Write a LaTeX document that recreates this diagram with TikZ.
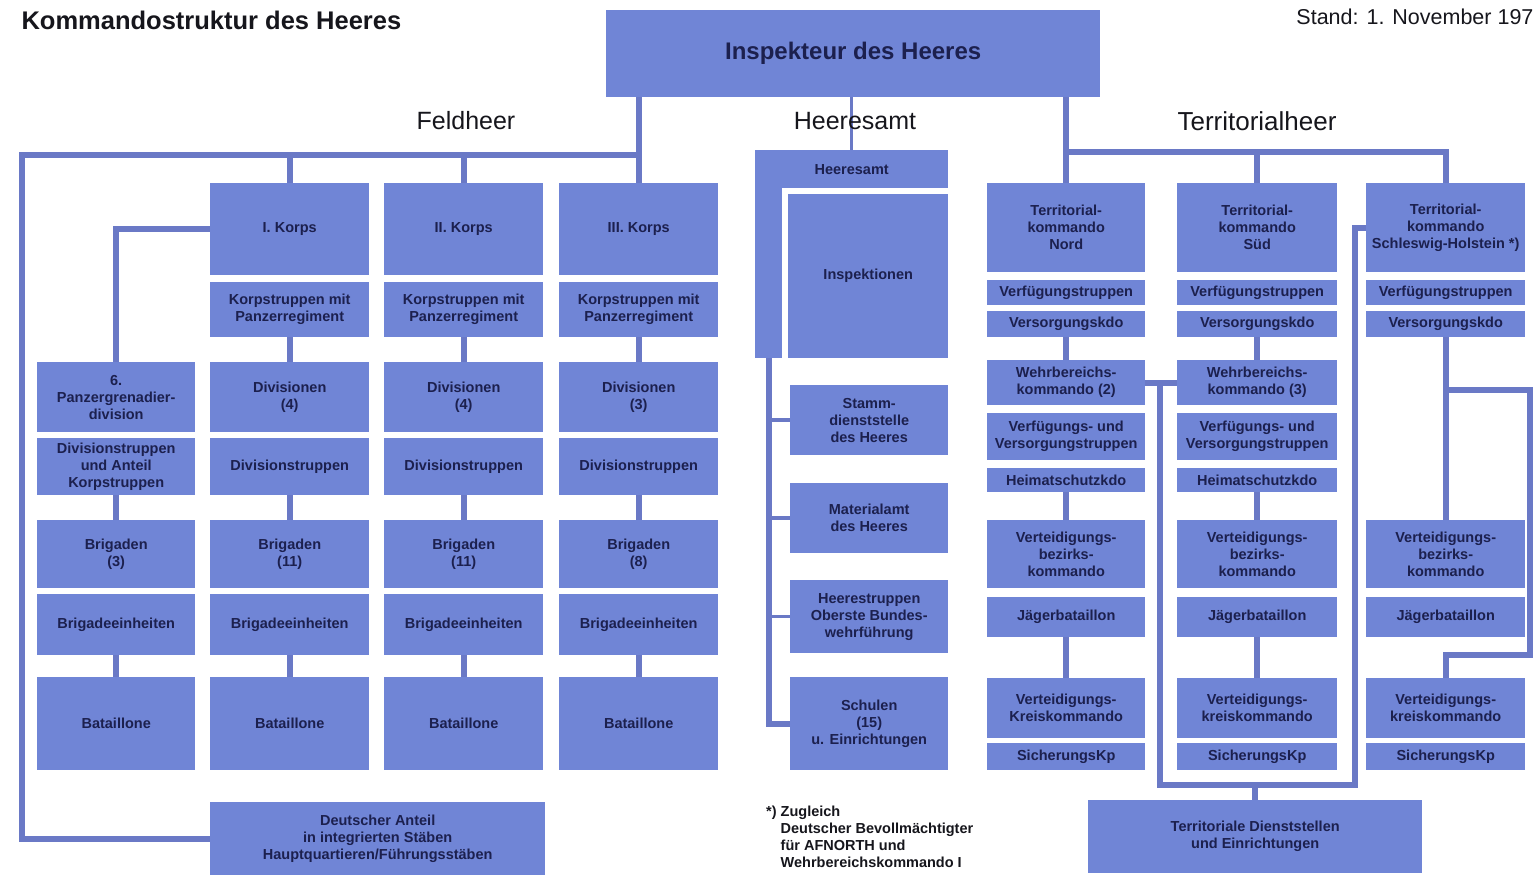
\documentclass[tikz,border=0pt]{standalone}
\usepackage{fontspec}
\setmainfont{Liberation Sans}
\usetikzlibrary{backgrounds}

\definecolor{boxblue}{RGB}{112,133,214}
\definecolor{linkblue}{RGB}{106,121,198}
\definecolor{boxtext}{RGB}{28,32,78}
\definecolor{headtext}{RGB}{22,22,28}

\tikzset{
  orgbox/.style={fill=boxblue, draw=none, inner sep=1pt, align=center,
    text=boxtext, font=\fontsize{14.5}{17}\selectfont\bfseries, anchor=north west},
  link/.style={draw=linkblue, line width=6pt, line join=miter},
  thinlink/.style={draw=linkblue, line width=3.5pt},
  heading/.style={font=\fontsize{25}{28}\selectfont, text=headtext},
}

% \orgbox{name}{x1}{y1}{x2}{y2}{text}: box given by its top-left and bottom-right corners
\newcommand\orgbox[6]{%
  \node[orgbox, minimum width={(#4)-(#2)}, minimum height={(#5)-(#3)}] (#1) at (#2,#3) {#6};}

\begin{document}
\begin{tikzpicture}[x=1pt, y=-1pt]
\useasboundingbox (0,0) rectangle (1537,885);
\begin{pgfonlayer}{background}
  \fill[white] (0,0) rectangle (1537,885);
\end{pgfonlayer}

% title and date
\node[anchor=west, font=\fontsize{25.5}{29}\selectfont\bfseries, text=headtext] (title) at (18,20) {Kommandostruktur des Heeres};
\node[anchor=east, font=\fontsize{21.5}{24}\selectfont, text=headtext] (stand) at (1537,17) {Stand: 1. November 197};

% top command
\node[orgbox, minimum width=494, minimum height=87, font=\fontsize{24}{28}\selectfont\bfseries] (insp) at (606,10) {Inspekteur des Heeres};

% headings
\node[heading] (hFeld) at (466,121) {Feldheer};
\node[heading] (hAmt) at (855,121) {Heeresamt};
\node[heading, font=\fontsize{26}{29}\selectfont] (hTerr) at (1257,121) {Territorialheer};

% ---------- Feldheer ----------
\orgbox{k1}{210}{183}{369}{275}{I. Korps}
\orgbox{k2}{384}{183}{543}{275}{II. Korps}
\orgbox{k3}{559}{183}{718}{275}{III. Korps}
\orgbox{kt1}{210}{282}{369}{337}{Korpstruppen mit\\Panzerregiment}
\orgbox{kt2}{384}{282}{543}{337}{Korpstruppen mit\\Panzerregiment}
\orgbox{kt3}{559}{282}{718}{337}{Korpstruppen mit\\Panzerregiment}

\orgbox{d0}{37}{362}{195}{432}{6.\\Panzergrenadier-\\division}
\orgbox{d1}{210}{362}{369}{432}{Divisionen\\(4)}
\orgbox{d2}{384}{362}{543}{432}{Divisionen\\(4)}
\orgbox{d3}{559}{362}{718}{432}{Divisionen\\(3)}
\orgbox{dt0}{37}{438}{195}{495}{Divisionstruppen\\und Anteil\\Korpstruppen}
\orgbox{dt1}{210}{438}{369}{495}{Divisionstruppen}
\orgbox{dt2}{384}{438}{543}{495}{Divisionstruppen}
\orgbox{dt3}{559}{438}{718}{495}{Divisionstruppen}

\orgbox{b0}{37}{520}{195}{588}{Brigaden\\(3)}
\orgbox{b1}{210}{520}{369}{588}{Brigaden\\(11)}
\orgbox{b2}{384}{520}{543}{588}{Brigaden\\(11)}
\orgbox{b3}{559}{520}{718}{588}{Brigaden\\(8)}
\orgbox{be0}{37}{594}{195}{655}{Brigadeeinheiten}
\orgbox{be1}{210}{594}{369}{655}{Brigadeeinheiten}
\orgbox{be2}{384}{594}{543}{655}{Brigadeeinheiten}
\orgbox{be3}{559}{594}{718}{655}{Brigadeeinheiten}

\orgbox{bt0}{37}{677}{195}{770}{Bataillone}
\orgbox{bt1}{210}{677}{369}{770}{Bataillone}
\orgbox{bt2}{384}{677}{543}{770}{Bataillone}
\orgbox{bt3}{559}{677}{718}{770}{Bataillone}

\orgbox{da}{210}{802}{545}{875}{Deutscher Anteil\\in integrierten Stäben\\Hauptquartieren/Führungsstäben}

% ---------- Heeresamt ----------
\orgbox{hastrip}{755}{150}{782}{358}{}
\orgbox{ha}{755}{150}{948}{188}{Heeresamt}
\orgbox{insk}{788}{194}{948}{358}{Inspektionen}
\orgbox{sd}{790}{385}{948}{455}{Stamm-\\dienststelle\\des Heeres}
\orgbox{ma}{790}{483}{948}{553}{Materialamt\\des Heeres}
\orgbox{ht}{790}{580}{948}{653}{Heerestruppen\\Oberste Bundes-\\wehrführung}
\orgbox{sch}{790}{677}{948}{770}{Schulen\\(15)\\u. Einrichtungen}

% ---------- Territorialheer ----------
\orgbox{tA}{987}{183}{1145}{272}{Territorial-\\kommando\\Nord}
\orgbox{tB}{1177}{183}{1337}{272}{Territorial-\\kommando\\Süd}
\orgbox{tC}{1366}{183}{1525}{272}{Territorial-\\kommando\\Schleswig-Holstein *)}
\orgbox{vfA}{987}{280}{1145}{305}{Verfügungstruppen}
\orgbox{vfB}{1177}{280}{1337}{305}{Verfügungstruppen}
\orgbox{vfC}{1366}{280}{1525}{305}{Verfügungstruppen}
\orgbox{vsA}{987}{311}{1145}{337}{Versorgungskdo}
\orgbox{vsB}{1177}{311}{1337}{337}{Versorgungskdo}
\orgbox{vsC}{1366}{311}{1525}{337}{Versorgungskdo}

\orgbox{wA}{987}{360}{1145}{405}{Wehrbereichs-\\kommando (2)}
\orgbox{wB}{1177}{360}{1337}{405}{Wehrbereichs-\\kommando (3)}
\orgbox{vvA}{987}{413}{1145}{460}{Verfügungs- und\\Versorgungstruppen}
\orgbox{vvB}{1177}{413}{1337}{460}{Verfügungs- und\\Versorgungstruppen}
\orgbox{hsA}{987}{468}{1145}{492}{Heimatschutzkdo}
\orgbox{hsB}{1177}{468}{1337}{492}{Heimatschutzkdo}

\orgbox{vbA}{987}{520}{1145}{588}{Verteidigungs-\\bezirks-\\kommando}
\orgbox{vbB}{1177}{520}{1337}{588}{Verteidigungs-\\bezirks-\\kommando}
\orgbox{vbC}{1366}{520}{1525}{588}{Verteidigungs-\\bezirks-\\kommando}
\orgbox{jA}{987}{597}{1145}{637}{Jägerbataillon}
\orgbox{jB}{1177}{597}{1337}{637}{Jägerbataillon}
\orgbox{jC}{1366}{597}{1525}{637}{Jägerbataillon}
\orgbox{vkA}{987}{678}{1145}{738}{Verteidigungs-\\Kreiskommando}
\orgbox{vkB}{1177}{678}{1337}{738}{Verteidigungs-\\kreiskommando}
\orgbox{vkC}{1366}{678}{1525}{738}{Verteidigungs-\\kreiskommando}
\orgbox{skA}{987}{743}{1145}{770}{SicherungsKp}
\orgbox{skB}{1177}{743}{1337}{770}{SicherungsKp}
\orgbox{skC}{1366}{743}{1525}{770}{SicherungsKp}

\orgbox{tds}{1088}{800}{1422}{873}{Territoriale Dienststellen\\und Einrichtungen}

% footnote
\node[anchor=north west, align=left, inner sep=0pt, text=headtext,
      font=\fontsize{14.5}{17}\selectfont\bfseries] (note) at (766,806)
  {*) Zugleich\\\phantom{*) }Deutscher Bevollmächtigter\\\phantom{*) }für AFNORTH und\\\phantom{*) }Wehrbereichskommando I};

% ---------- connectors (behind the boxes) ----------
\begin{pgfonlayer}{background}
  \coordinate (fbus) at (22,155);
  \coordinate (tbus) at (1066,152);
  \coordinate (cR) at (1530,390);
  \coordinate (cRb) at (1530,655);
  \coordinate (brB) at (1160,785);
  \coordinate (brR) at (1355,785);

  % Feldheer bus and the frame to the integrated staffs
  \draw[link] (insp.south -| k3.north) -- (k3.north);
  \draw[link] (k3.north |- fbus) -- (fbus) -- (fbus |- da.west) -- (da.west);
  \draw[link] (k1.north |- fbus) -- (k1.north);
  \draw[link] (k2.north |- fbus) -- (k2.north);
  \draw[link] (k1.west) -- (k1.west -| d0.north) -- (d0.north);
  \foreach \c in {1,2,3} {
    \draw[link] (kt\c.south) -- (d\c.north);
  }
  \foreach \c in {0,1,2,3} {
    \draw[link] (dt\c.south) -- (b\c.north);
    \draw[link] (be\c.south) -- (bt\c.north);
  }

  % Heeresamt
  \draw[thinlink] (insp.south -| ha.north) -- (ha.north);
  \draw[link] (hastrip.south) -- (hastrip.south |- sch.west) -- (sch.west);
  \draw[thinlink] (sd.west) -- (sd.west -| hastrip.south);
  \draw[thinlink] (ma.west) -- (ma.west -| hastrip.south);
  \draw[thinlink] (ht.west) -- (ht.west -| hastrip.south);

  % Territorialheer bus
  \draw[link] (insp.south -| tA.north) -- (tA.north);
  \draw[link] (tbus) -- (tbus -| tC.north) -- (tC.north);
  \draw[link] (tbus -| tB.north) -- (tB.north);
  \foreach \c in {A,B} {
    \draw[link] (vs\c.south) -- (w\c.north);
    \draw[link] (hs\c.south) -- (vb\c.north);
    \draw[link] (j\c.south) -- (vk\c.north);
  }
  \draw[link] (vsC.south) -- (vbC.north);
  \draw[link] (vsC.south |- cR) -- (cR) -- (cRb) -- (cRb -| vkC.north) -- (vkC.north);

  % frame linking the Wehrbereichskommandos, Schleswig-Holstein and the territorial offices
  \draw[link] (wA.east) -- (wB.west);
  \draw[link] (wA.east -| brB) -- (brB) -- (brR) -- (brR |- tC.west) -- (tC.west);
  \draw[link] (brB -| tds.north) -- (tds.north);
\end{pgfonlayer}
\end{tikzpicture}
\end{document}
